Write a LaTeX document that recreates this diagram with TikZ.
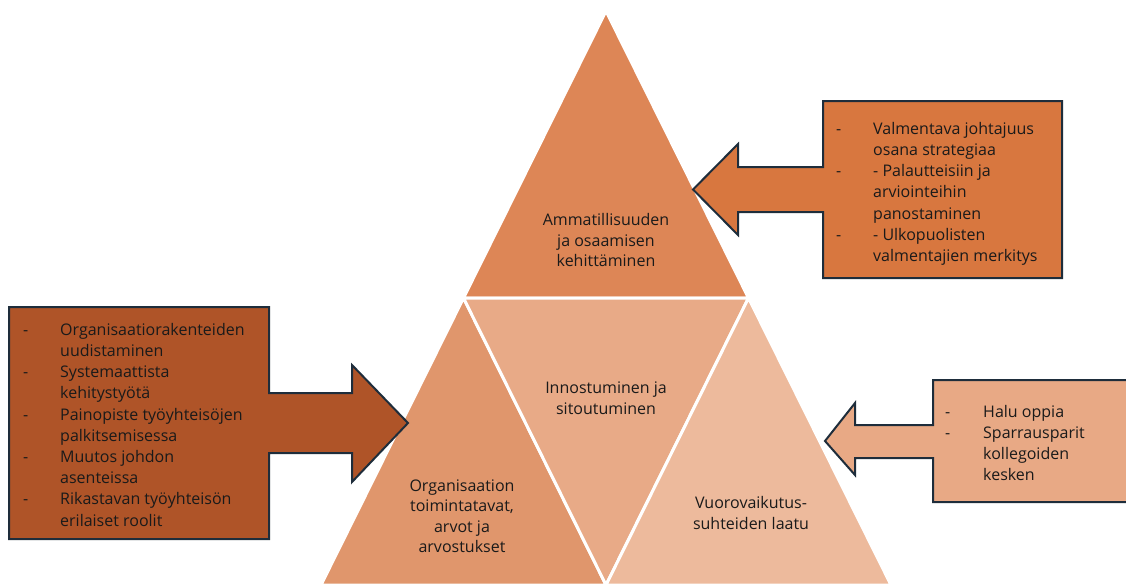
\documentclass[tikz,border=0pt]{standalone}
\usepackage{fontspec}
\setmainfont{Open Sans}
\definecolor{triTop}{HTML}{DD8656}
\definecolor{triLeft}{HTML}{E0966C}
\definecolor{triMid}{HTML}{E8AA87}
\definecolor{triRight}{HTML}{EDBA9C}
\definecolor{boxTop}{HTML}{D8773F}
\definecolor{boxLeft}{HTML}{AF5428}
\definecolor{boxRight}{HTML}{E8A985}
\definecolor{edge}{HTML}{1E2D3B}
\definecolor{ink}{HTML}{1A1A1A}
\newcommand{\dsh}[1]{\makebox[#1][l]{-}}
\begin{document}
\begin{tikzpicture}[x=1pt,y=-1pt,
    tri/.style={fill=#1, draw=white, line width=3pt, line join=miter},
    callout/.style={fill=#1, draw=edge, line width=2pt, line join=miter},
    label/.style={align=center, text=ink, inner sep=0pt, font=\fontsize{16}{20.5}\selectfont},
    list/.style={align=left, text=ink, inner sep=0pt, anchor=north west, font=\fontsize{16}{21.2}\selectfont}]
    \clip (0,0) rectangle (1126,584);
    % pyramid corners
    \coordinate (apex) at (606,11);
    \coordinate (ml) at (463.5,298);
    \coordinate (mr) at (748.5,298);
    \coordinate (bl) at (321,585);
    \coordinate (bm) at (606,585);
    \coordinate (br) at (891,585);
    \draw [tri=triTop] (apex) -- (ml) -- (mr) -- cycle;
    \draw [tri=triLeft] (ml) -- (bl) -- (bm) -- cycle;
    \draw [tri=triMid] (ml) -- (mr) -- (bm) -- cycle;
    \draw [tri=triRight] (mr) -- (bm) -- (br) -- cycle;
    \node [label] (ammat) at (606,240) {Ammatillisuuden\\ja osaamisen\\kehittäminen};
    \node [label] (innos) at (606,398) {Innostuminen ja\\sitoutuminen};
    \node [label] (organ) at (462,516) {Organisaation\\toimintatavat,\\arvot ja\\arvostukset};
    \node [label] (vuoro) at (751,513) {Vuorovaikutus-\\suhteiden laatu};
    % callouts
    \draw [callout=boxTop] (823,101) -- (1062,101) -- (1062,278) -- (823,278) -- (823,212)
        -- (738,212) -- (738,235) -- (693,189.5) -- (738,144) -- (738,167) -- (823,167) -- cycle;
    \draw [callout=boxLeft] (9,307) -- (269,307) -- (269,393) -- (352,393) -- (352,365)
        -- (408,423) -- (352,482) -- (352,453) -- (269,453) -- (269,539) -- (9,539) -- cycle;
    \draw [callout=boxRight] (933,380) -- (1140,380) -- (1140,502) -- (933,502) -- (933,458)
        -- (855,458) -- (855,475) -- (825,441) -- (855,403) -- (855,425) -- (933,425) -- cycle;
    \node [list] (valm) at (836,122) {\dsh{37pt}Valmentava johtajuus\\\hspace*{37pt}osana strategiaa\\
        \dsh{37pt}- Palautteisiin ja\\\hspace*{37pt}arviointeihin\\\hspace*{37pt}panostaminen\\
        \dsh{37pt}- Ulkopuolisten\\\hspace*{37pt}valmentajien merkitys};
    \node [list] (raken) at (23,323) {\dsh{37pt}Organisaatiorakenteiden\\\hspace*{37pt}uudistaminen\\
        \dsh{37pt}Systemaattista\\\hspace*{37pt}kehitystyötä\\
        \dsh{37pt}Painopiste työyhteisöjen\\\hspace*{37pt}palkitsemisessa\\
        \dsh{37pt}Muutos johdon\\\hspace*{37pt}asenteissa\\
        \dsh{37pt}Rikastavan työyhteisön\\\hspace*{37pt}erilaiset roolit};
    \node [list] (halu) at (945,405) {\dsh{38pt}Halu oppia\\\dsh{38pt}Sparrausparit\\
        \hspace*{38pt}kollegoiden\\\hspace*{38pt}kesken};
\end{tikzpicture}
\end{document}
